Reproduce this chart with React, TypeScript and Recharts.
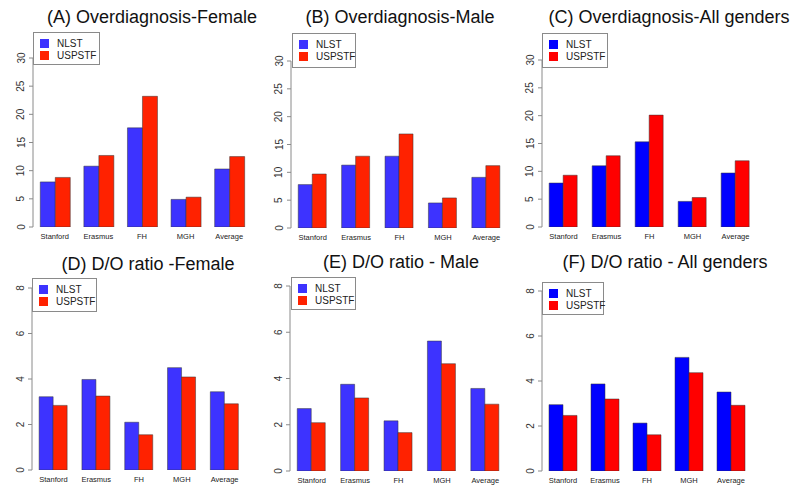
import React from 'react';
import { BarChart, Bar, XAxis, YAxis, Legend } from 'recharts';

const categories = ['Stanford', 'Erasmus', 'FH', 'MGH', 'Average'];

const odFemaleNLST = [8.0, 10.8, 17.6, 4.9, 10.3];
const odFemaleUSPSTF = [8.8, 12.7, 23.2, 5.3, 12.5];
const odMaleNLST = [7.8, 11.3, 12.9, 4.5, 9.1];
const odMaleUSPSTF = [9.7, 12.9, 16.9, 5.4, 11.2];
const odAllNLST = [7.9, 11.0, 15.3, 4.6, 9.7];
const odAllUSPSTF = [9.3, 12.8, 20.1, 5.3, 11.9];

const doFemaleNLST = [3.22, 3.98, 2.1, 4.5, 3.44];
const doFemaleUSPSTF = [2.84, 3.25, 1.55, 4.09, 2.91];
const doMaleNLST = [2.7, 3.75, 2.17, 5.62, 3.57];
const doMaleUSPSTF = [2.09, 3.16, 1.66, 4.64, 2.89];
const doAllNLST = [2.95, 3.87, 2.13, 5.05, 3.51];
const doAllUSPSTF = [2.47, 3.2, 1.61, 4.37, 2.92];

const odTicks = [0, 5, 10, 15, 20, 25, 30];
const doTicks = [0, 2, 4, 6, 8];

const FONT = '"Liberation Sans", Arial, Helvetica, sans-serif';

const softColors = { nlst: '#3d33ff', uspstf: '#ff2200' };
const pureColors = { nlst: '#0000ff', uspstf: '#ff0000' };

const build = (a: number[], b: number[]) =>
  categories.map((name, i) => ({ name, nlst: a[i], uspstf: b[i] }));

type Spec = {
  title: string;
  titleCX: number;
  titleCY: number;
  axisX: number;
  plotW: number;
  panelTop: number;
  topY: number;
  bottomY: number;
  yMax: number;
  ticks: number[];
  nlst: number[];
  uspstf: number[];
  colors: { nlst: string; uspstf: string };
  legend: { x: number; y: number; w: number; h: number };
};

const panels: Spec[] = [
  { title: '(A) Overdiagnosis-Female', titleCX: 152, titleCY: 17, axisX: 33, plotW: 218, panelTop: 0, topY: 58, bottomY: 227, yMax: 30, ticks: odTicks, nlst: odFemaleNLST, uspstf: odFemaleUSPSTF, colors: softColors, legend: { x: 33, y: 32, w: 67, h: 33 } },
  { title: '(B) Overdiagnosis-Male', titleCX: 400, titleCY: 17, axisX: 291, plotW: 217, panelTop: 0, topY: 61, bottomY: 228, yMax: 30, ticks: odTicks, nlst: odMaleNLST, uspstf: odMaleUSPSTF, colors: softColors, legend: { x: 292, y: 33, w: 64, h: 35 } },
  { title: '(C) Overdiagnosis-All genders', titleCX: 669, titleCY: 17, axisX: 542, plotW: 215, panelTop: 0, topY: 60, bottomY: 227, yMax: 30, ticks: odTicks, nlst: odAllNLST, uspstf: odAllUSPSTF, colors: pureColors, legend: { x: 542, y: 33, w: 66, h: 35 } },
  { title: '(D) D/O ratio -Female', titleCX: 148, titleCY: 264, axisX: 32, plotW: 214, panelTop: 250, topY: 288, bottomY: 470, yMax: 8, ticks: doTicks, nlst: doFemaleNLST, uspstf: doFemaleUSPSTF, colors: softColors, legend: { x: 32, y: 278, w: 65, h: 34 } },
  { title: '(E) D/O ratio - Male', titleCX: 401, titleCY: 262, axisX: 290, plotW: 217, panelTop: 250, topY: 286, bottomY: 471, yMax: 8, ticks: doTicks, nlst: doMaleNLST, uspstf: doMaleUSPSTF, colors: softColors, legend: { x: 291, y: 277, w: 65, h: 33 } },
  { title: '(F) D/O ratio - All genders', titleCX: 665, titleCY: 262, axisX: 542, plotW: 210, panelTop: 250, topY: 291, bottomY: 471, yMax: 8, ticks: doTicks, nlst: doAllNLST, uspstf: doAllUSPSTF, colors: pureColors, legend: { x: 542, y: 282, w: 62, h: 33 } },
];

const YTick = (props: any) => {
  const { x, y, payload } = props;
  return (
    <text
      x={x}
      y={y}
      transform={`rotate(-90 ${x} ${y})`}
      textAnchor="middle"
      fontSize={10}
      fill="#333"
      fontFamily={FONT}
    >
      {payload.value}
    </text>
  );
};

const makeLegend = (w: number, h: number) => (props: any) => {
  const payload = props.payload || [];
  return (
    <div
      style={{
        width: w,
        height: h,
        boxSizing: 'border-box',
        border: '1px solid #8a8a8a',
        background: '#fff',
        position: 'relative',
        fontFamily: FONT,
        fontSize: 10,
        color: '#222',
      }}
    >
      {payload.map((p: any, i: number) => (
        <div
          key={i}
          style={{ position: 'absolute', left: 6, top: 5 + i * 12, height: 11, display: 'flex', alignItems: 'center' }}
        >
          <span style={{ display: 'inline-block', width: 9, height: 9, background: p.color, marginRight: 8 }} />
          <span style={{ lineHeight: '11px' }}>{p.value}</span>
        </div>
      ))}
    </div>
  );
};

const Panel = ({ s }: { s: Spec }) => {
  const chartLeft = s.axisX - 40;
  const width = 40 + s.plotW + 5;
  const height = s.bottomY - s.panelTop + 22;
  const data = build(s.nlst, s.uspstf);
  return (
    <>
      <div
        style={{
          position: 'absolute',
          left: s.titleCX - 160,
          width: 320,
          top: s.titleCY - 10,
          height: 20,
          lineHeight: '20px',
          textAlign: 'center',
          fontFamily: FONT,
          fontSize: 18,
          color: '#111',
          whiteSpace: 'nowrap',
        }}
      >
        {s.title}
      </div>
      <div style={{ position: 'absolute', left: chartLeft, top: s.panelTop }}>
        <BarChart
          width={width}
          height={height}
          data={data}
          margin={{ top: s.topY - s.panelTop, right: 5, left: 0, bottom: 0 }}
          barCategoryGap="16.67%"
          barGap={0}
        >
          <XAxis
            dataKey="name"
            axisLine={false}
            tickLine={false}
            tickSize={0}
            tickMargin={7}
            interval={0}
            height={22}
            tick={{ fontSize: 7.5, fill: '#222', fontFamily: FONT }}
          />
          <YAxis
            width={40}
            domain={[0, s.yMax]}
            ticks={s.ticks}
            allowDataOverflow
            tickSize={4}
            tickMargin={4.5}
            axisLine={{ stroke: '#8a8a8a' }}
            tickLine={{ stroke: '#8a8a8a' }}
            tick={<YTick />}
          />
          <Legend
            layout="vertical"
            align="center"
            verticalAlign="middle"
            content={makeLegend(s.legend.w, s.legend.h)}
            wrapperStyle={{
              position: 'absolute',
              left: s.legend.x - chartLeft,
              top: s.legend.y - s.panelTop,
              width: s.legend.w,
              height: s.legend.h,
            }}
          />
          <Bar dataKey="nlst" name="NLST" fill={s.colors.nlst} stroke="#333" strokeWidth={0.5} isAnimationActive={false} />
          <Bar dataKey="uspstf" name="USPSTF" fill={s.colors.uspstf} stroke="#333" strokeWidth={0.5} isAnimationActive={false} />
        </BarChart>
      </div>
    </>
  );
};

export default function App() {
  return (
    <div style={{ position: 'absolute', left: 0, top: 0, width: 800, height: 497, background: '#fff', overflow: 'hidden' }}>
      {panels.map((s, i) => (
        <Panel key={i} s={s} />
      ))}
    </div>
  );
}
